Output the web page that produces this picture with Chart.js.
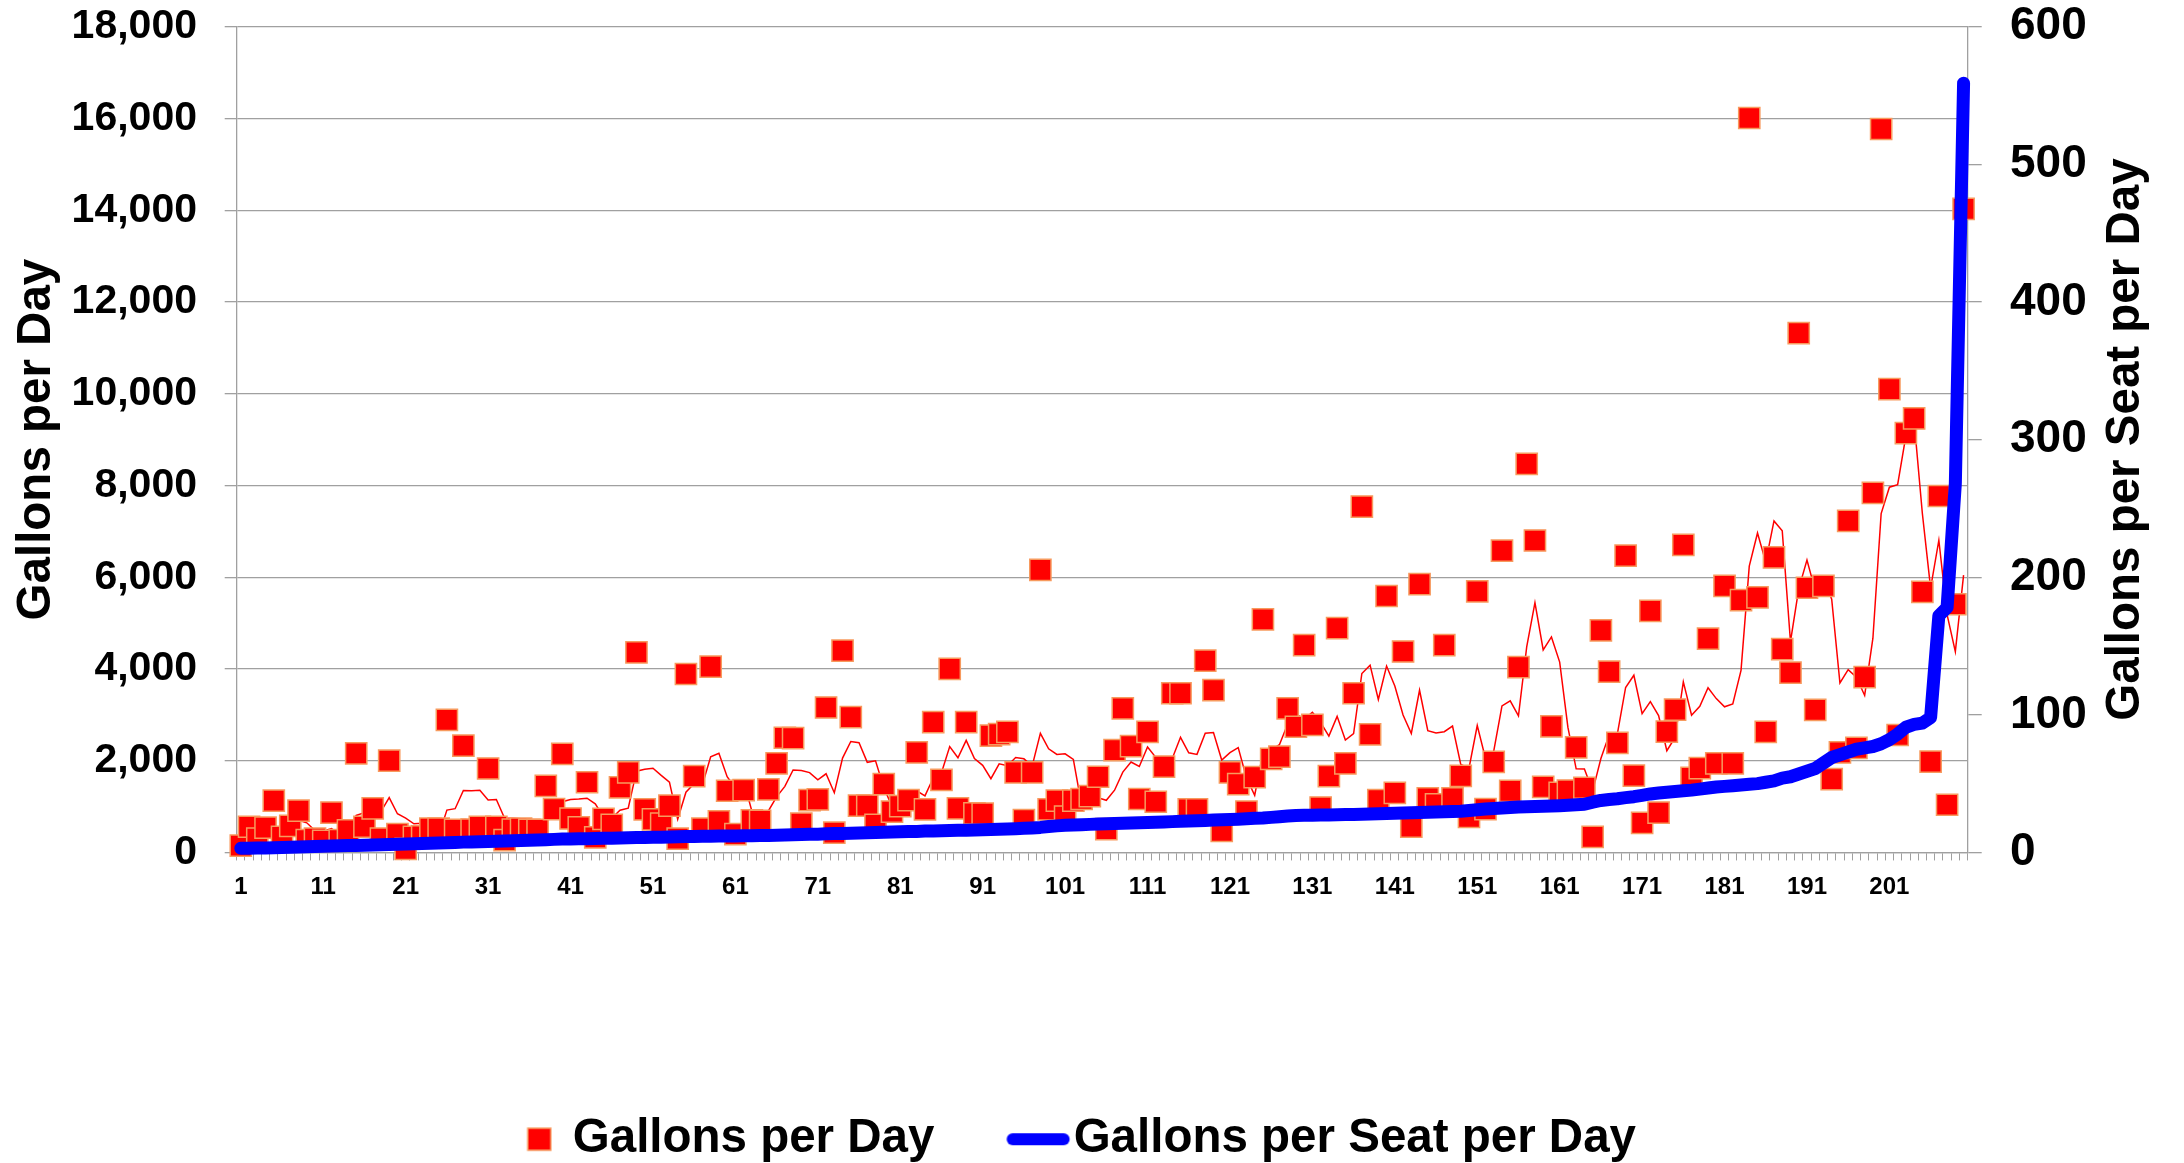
<!DOCTYPE html>
<html lang="en">
<head>
<meta charset="utf-8">
<title>Gallons per Day / Gallons per Seat per Day</title>
<script src="https://cdn.jsdelivr.net/npm/chart.js@4.4.1/dist/chart.umd.min.js"></script>
<style>
    html, body { margin: 0; padding: 0; background: #ffffff; }
    #wrap { position: relative; width: 2184px; height: 1163px; }
</style>
</head>
<body>
<div id="wrap"><canvas id="chart"></canvas></div>
<script>
// Dane (210 obiektów, posortowanych wg galonów na miejsce)
const siteCount = 210;
const siteLabels = Array.from({ length: siteCount }, (_, i) => String(i + 1));
const tickLabels = ['1', '11', '21', '31', '41', '51', '61', '71', '81', '91',
    '101', '111', '121', '131', '141', '151', '161', '171', '181', '191', '201'];

// Gallons per Day (lewa oś)
const gallonsPerDay = [
    150, 560, 300, 540, 1130, 340, 580, 910, 270, 300,
    250, 870, 270, 480, 2160, 560, 960, 300, 2000, 400,
    80, 340, 350, 520, 520, 2890, 490, 2330, 500, 560,
    1830, 560, 270, 500, 520, 490, 490, 1450, 945, 2150,
    740, 545, 1530, 330, 730, 600, 1420, 1745, 4360, 940,
    720, 630, 1020, 300, 3890, 1665, 520, 4050, 680, 1345,
    400, 1360, 700, 690, 1375, 1940, 2500, 2490, 630, 1140,
    1155, 3160, 430, 4400, 2950, 1020, 1020, 600, 1490, 890,
    1010, 1140, 2180, 940, 2840, 1580, 4000, 960, 2840, 850,
    845, 2545, 2580, 2630, 1745, 705, 1745, 6160, 940, 1130,
    780, 1130, 1165, 1230, 1650, 510, 2230, 3140, 2320, 1165,
    2630, 1105, 1870, 3470, 3470, 940, 940, 4180, 3540, 470,
    1745, 1490, 890, 1640, 5080, 2040, 2090, 3140, 2740, 4520,
    2780, 980, 1665, 4890, 1940, 3470, 7540, 2575, 1140, 5590,
    1300, 4380, 560, 5850, 1180, 1050, 4520, 1180, 1670, 775,
    5690, 945, 1975, 6580, 1340, 4040, 8470, 6800, 1430, 2750,
    1300, 1350, 2290, 1410, 340, 4840, 3940, 2390, 6470, 1675,
    645, 5265, 870, 2635, 3115, 6705, 1625, 1840, 4660, 1940,
    5810, 1940, 5500, 16010, 5560, 2630, 6430, 4430, 3920, 11320,
    5770, 3110, 5810, 1600, 2180, 7230, 2280, 3820, 7840, 15770,
    10100, 2560, 9140, 9460, 5680, 1980, 7770, 1040, 5410, 14030,
];

// Gallons per Seat per Day (prawa oś)
const gallonsPerSeat = [
    3.0, 3.1, 3.2, 3.3, 3.5, 3.6, 3.8, 4.0, 4.1, 4.3,
    4.5, 4.6, 4.8, 5.0, 5.1, 5.3, 5.5, 5.6, 5.8, 6.0,
    6.2, 6.4, 6.5, 6.7, 6.9, 7.1, 7.3, 7.5, 7.6, 7.8,
    8.0, 8.2, 8.3, 8.5, 8.7, 8.9, 9.1, 9.3, 9.5, 9.7,
    9.8, 9.9, 10.0, 10.2, 10.3, 10.4, 10.5, 10.7, 10.8, 10.9,
    11.0, 11.1, 11.3, 11.4, 11.5, 11.6, 11.7, 11.8, 11.9, 12.0,
    12.0, 12.1, 12.2, 12.3, 12.4, 12.5, 12.6, 12.8, 13.0, 13.2,
    13.3, 13.5, 13.7, 13.8, 14.0, 14.2, 14.3, 14.5, 14.7, 14.8,
    15.0, 15.2, 15.3, 15.5, 15.6, 15.8, 15.9, 16.1, 16.2, 16.4,
    16.5, 16.6, 16.8, 17.0, 17.2, 17.5, 17.8, 18.2, 18.8, 19.3,
    19.7, 20.0, 20.2, 20.4, 20.6, 20.8, 21.0, 21.2, 21.4, 21.6,
    21.8, 22.0, 22.2, 22.4, 22.6, 22.8, 23.0, 23.3, 23.5, 23.8,
    24.0, 24.2, 24.5, 24.8, 25.0, 25.5, 26.0, 26.5, 26.9, 27.0,
    27.1, 27.2, 27.3, 27.4, 27.5, 27.6, 27.8, 28.0, 28.1, 28.3,
    28.5, 28.6, 28.8, 29.0, 29.2, 29.4, 29.6, 29.8, 30.0, 30.5,
    31.0, 31.5, 32.0, 32.3, 32.6, 33.0, 33.2, 33.4, 33.6, 33.8,
    34.0, 34.3, 34.6, 35.0, 36.5, 37.8, 38.5, 39.0, 39.8, 40.5,
    41.5, 42.5, 43.2, 43.8, 44.3, 44.8, 45.3, 46.0, 46.8, 47.5,
    48.0, 48.5, 49.0, 49.5, 50.0, 51.0, 52.0, 54.0, 55.0, 57.0,
    59.0, 61.0, 65.0, 69.0, 71.0, 73.0, 75.0, 76.0, 77.0, 79.0,
    82.0, 86.0, 91.0, 93.0, 94.0, 98.0, 172, 178, 268, 559,
];

// Kolory i czcionki
const FONT = '"Liberation Sans", Arial, Helvetica, sans-serif';
const RED = '#ff0000';
const RED_EDGE = '#f79a5e';
const BLUE = '#0000ff';
const GRID = '#a0a0a0';

Chart.defaults.font.family = FONT;
Chart.defaults.font.weight = 'bold';
Chart.defaults.color = '#000000';

/**
 * Średnia ruchoma (linia trendu z arkusza, okres 5)
 */
function movingAverage(values, period) {
    return values.map((v, i) => {
        if (i < period - 1) {
            return null;
        }
        let sum = 0;
        for (let k = i - period + 1; k <= i; k++) {
            sum += values[k];
        }
        return sum / period;
    });
}

/**
 * Znacznik legendy rysowany na małym canvasie
 */
function makeMarker(width, height, draw) {
    const c = document.createElement('canvas');
    c.width = width;
    c.height = height;
    draw(c.getContext('2d'));
    return c;
}

const squareMarker = makeMarker(60, 26, (g) => {
    g.fillStyle = RED;
    g.fillRect(9.25, 2, 23, 22);
    g.strokeStyle = RED_EDGE;
    g.lineWidth = 1.5;
    g.strokeRect(9.25, 2, 23, 22);
});

const lineMarker = makeMarker(100, 26, (g) => {
    g.strokeStyle = BLUE;
    g.lineWidth = 12;
    g.lineCap = 'round';
    g.beginPath();
    g.moveTo(13.25, 13);
    g.lineTo(64.25, 13);
    g.stroke();
});

// Tytuł prawej osi czytany od dołu do góry
const rightTitle = {
    id: 'rightTitle',
    afterDraw(chart) {
        const { ctx, chartArea } = chart;
        const x = chart.scales.y1.right - 58;
        ctx.save();
        ctx.translate(x, (chartArea.top + chartArea.bottom) / 2);
        ctx.rotate(-Math.PI / 2);
        ctx.font = `bold 47.5px ${FONT}`;
        ctx.fillStyle = '#000000';
        ctx.textAlign = 'center';
        ctx.textBaseline = 'middle';
        ctx.fillText('Gallons per Seat per Day', 0, 0);
        ctx.restore();
    },
};

const ctx = document.getElementById('chart').getContext('2d');

new Chart(ctx, {
    type: 'line',
    data: {
        labels: siteLabels,
        datasets: [
            {
                label: 'Gallons per Day',
                data: gallonsPerDay,
                yAxisID: 'y',
                showLine: false,
                pointStyle: 'rect',
                pointRadius: 15,
                pointHoverRadius: 15,
                pointBackgroundColor: RED,
                pointBorderColor: RED_EDGE,
                pointBorderWidth: 1.5,
                backgroundColor: RED,
                borderColor: RED_EDGE,
                clip: false,
                order: 2,
            },
            {
                label: 'Gallons per Seat per Day',
                data: gallonsPerSeat,
                yAxisID: 'y1',
                borderColor: BLUE,
                backgroundColor: BLUE,
                borderWidth: 13,
                borderCapStyle: 'round',
                borderJoinStyle: 'round',
                pointRadius: 0,
                tension: 0,
                clip: false,
                order: 1,
            },
            {
                label: 'trend',
                data: movingAverage(gallonsPerDay, 5),
                yAxisID: 'y',
                borderColor: RED,
                borderWidth: 1.5,
                pointRadius: 0,
                tension: 0,
                order: 3,
            },
        ],
    },
    options: {
        responsive: true,
        maintainAspectRatio: false,
        animation: false,
        events: [],
        layout: {
            padding: { top: 0, left: 0, right: 0, bottom: -10 },
        },
        plugins: {
            tooltip: { enabled: false },
            legend: {
                position: 'bottom',
                labels: {
                    usePointStyle: true,
                    boxWidth: 1,
                    padding: 114.5,
                    color: '#000000',
                    font: { size: 47.5, weight: 'bold' },
                    generateLabels: () => [
                        { text: 'Gallons per Day', pointStyle: squareMarker, datasetIndex: 0, lineWidth: 0, hidden: false },
                        { text: 'Gallons per Seat per Day', pointStyle: lineMarker, datasetIndex: 1, lineWidth: 0, hidden: false },
                    ],
                },
            },
        },
        scales: {
            x: {
                type: 'category',
                offset: true,
                grid: {
                    display: true,
                    drawOnChartArea: false,
                    drawTicks: true,
                    tickLength: 8,
                    offset: true,
                    color: GRID,
                    lineWidth: 1,
                },
                border: { color: GRID, width: 1.3 },
                ticks: {
                    autoSkip: false,
                    maxRotation: 0,
                    minRotation: 0,
                    padding: 13,
                    color: '#000000',
                    font: { size: 24, weight: 'bold' },
                    callback: (value, index) => (tickLabels.includes(siteLabels[index]) ? siteLabels[index] : ''),
                },
                afterFit: (scale) => { scale.height = 148.55; },
            },
            y: {
                position: 'left',
                min: 0,
                max: 18000,
                grid: { color: GRID, lineWidth: 1.3, tickLength: 12 },
                border: { color: GRID, width: 1.3 },
                ticks: {
                    stepSize: 2000,
                    padding: 27.7,
                    color: '#000000',
                    font: { size: 41, weight: 'bold' },
                    callback: (value) => value.toLocaleString('en-US'),
                },
                title: {
                    display: true,
                    text: 'Gallons per Day',
                    color: '#000000',
                    font: { size: 47.5, weight: 'bold' },
                    padding: { top: 8, bottom: 0 },
                },
                afterFit: (scale) => { scale.width = 236.7; scale.paddingTop = 26.7; },
            },
            y1: {
                position: 'right',
                min: 0,
                max: 600,
                grid: { drawOnChartArea: false, color: GRID, lineWidth: 1.3, tickLength: 14 },
                border: { color: GRID, width: 1.3 },
                ticks: {
                    stepSize: 100,
                    padding: 28.3,
                    color: '#000000',
                    font: { size: 46, weight: 'bold' },
                },
                afterFit: (scale) => { scale.width = 216.3; scale.paddingTop = 26.7; },
            },
        },
    },
    plugins: [rightTitle],
});
</script>
</body>
</html>
